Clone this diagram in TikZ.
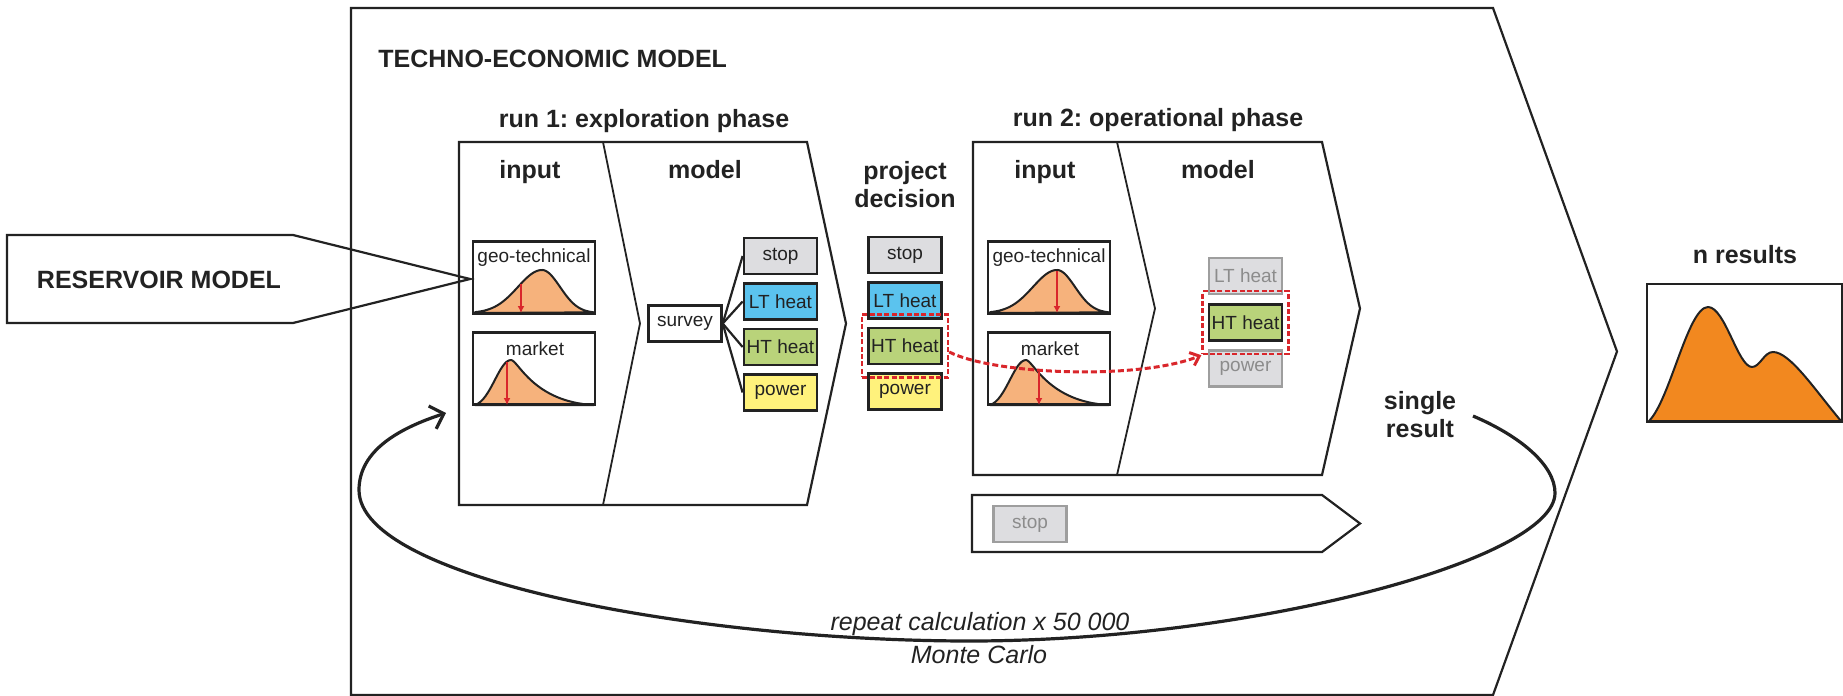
\documentclass[tikz,border=0pt]{standalone}
\usepackage{fontspec}
\setmainfont{Liberation Sans}
\usetikzlibrary{arrows.meta,fit}

\definecolor{ink}{HTML}{222222}
\definecolor{stopgrey}{HTML}{DDDDE0}
\definecolor{ltblue}{HTML}{5BC3EE}
\definecolor{htgreen}{HTML}{B9D37A}
\definecolor{pwyellow}{HTML}{FFF27C}
\definecolor{pdflight}{HTML}{F6B27C}
\definecolor{pdfdark}{HTML}{F2881F}
\definecolor{hired}{HTML}{D9262B}

\begin{document}
\frenchspacing
\begin{tikzpicture}[x=0.5pt, y=-0.5pt, color=ink,
    head/.style={font=\bfseries\fontsize{12.5pt}{14pt}\selectfont, anchor=base, inner sep=0, align=center},
    lbl/.style={font=\fontsize{9.5pt}{11pt}\selectfont, anchor=base, inner sep=0},
    note/.style={font=\itshape\fontsize{12.5pt}{15pt}\selectfont, anchor=base, inner sep=0},
    optbox/.style={draw=ink, line width=1.4pt, minimum width=36.5pt, minimum height=18pt, inner sep=0, font=\fontsize{9.5pt}{11pt}\selectfont},
    greybox/.style={optbox, draw=black!38, fill=stopgrey, text=black!45},
    chartbox/.style={draw=ink, line width=1.2pt, minimum width=61pt, minimum height=36pt, inner sep=0},
    curve/.style={fill=#1, line width=1pt, line join=round},
    hilite/.style={draw=hired, line width=1.3pt, dash pattern=on 2.5pt off 1.2pt, inner xsep=2.5pt, inner ysep=6pt},
    peg/.style={draw=hired, line width=1pt, -{Latex[length=3.5pt,width=3.5pt]}},
    panel/.style={draw=ink, line width=1.1pt}]
    \useasboundingbox (0,0) rectangle (1843,696);

    % outer frame and reservoir arrow
    \draw[panel] (351,8) -- (1493,8) -- (1617,351.5) -- (1493,695) -- (351,695) -- cycle;
    \draw[panel] (7,235) -- (293,235) -- (470,279) -- (293,323) -- (7,323) -- cycle;
    \node[head] (res) at (159,288) {RESERVOIR MODEL};
    \node[head, anchor=base west] (tem) at (378,68) {TECHNO-ECONOMIC MODEL};

    % the two runs
    \draw[panel] (459,142) -- (807,142) -- (846,323.5) -- (807,505) -- (459,505) -- cycle;
    \draw[panel, line width=0.9pt] (603,142) -- (640,323.5) -- (603,505);
    \draw[panel] (973,142) -- (1322,142) -- (1360,308.5) -- (1322,475) -- (973,475) -- cycle;
    \draw[panel, line width=0.9pt] (1117,142) -- (1155,308.5) -- (1117,475);
    \draw[panel] (972,495) -- (1322,495) -- (1360,523.5) -- (1322,552) -- (972,552) -- cycle;

    \node[head] (run1) at (644,127) {run 1: exploration phase};
    \node[head] (run2) at (1158,126) {run 2: operational phase};
    \node[head] (in1) at (530,178) {input};
    \node[head] (mod1) at (705,178) {model};
    \node[head] (in2) at (1045,178) {input};
    \node[head] (mod2) at (1218,178) {model};
    \node[head] (dec) at (905,207) {project\\decision};
    \node[head] (single) at (1420,437) {single\\result};
    \node[head] (nres) at (1745,263) {n results};

    % input distributions of both runs
    \foreach \ox/\ga/\gy/\ma/\my/\n in {473/521/284/507/362/1, 988/1057/271/1039/372/2} {
        \pgfmathsetmacro{\xa}{\ox+2}
        \pgfmathsetmacro{\xb}{\ox+121}
        \filldraw[curve=pdflight] (\xa,313) -- plot[domain=\xa:\xb, samples=70] (\x,{313-43*exp(-(\x-\ox-69)*(\x-\ox-69)/(\x<\ox+69 ? 1156 : 650))}) -- cycle;
        \node[chartbox] (geo\n) at ({\ox+61},277.5) {};
        \node[lbl] (geolbl\n) at ({\ox+61},262) {geo-technical};
        \draw[peg] (\ga,\gy) -- (\ga,313);
        \filldraw[curve=pdflight] (\xa,405) .. controls ({\ox+18},400) and ({\ox+26},360) .. ({\ox+38},360) .. controls ({\ox+45},360) and ({\ox+60},402) .. (\xb,405) -- cycle;
        \node[chartbox] (mkt\n) at ({\ox+61},368.5) {};
        \node[lbl] (mktlbl\n) at ({\ox+62},355) {market};
        \draw[peg] (\ma,\my) -- (\ma,405);
    }

    % survey and outcomes
    \node[optbox, line width=1.2pt, fill=white] (survey) at (685,323.5) {survey};
    \foreach \lbl/\col [count=\i] in {stop/stopgrey, LT heat/ltblue, HT heat/htgreen, power/pwyellow} {
        \node[optbox, fill=\col] (m\i) at (780.5,{210.5+45.5*\i}) {\lbl};
        \node[optbox, fill=\col] (d\i) at (905,{209.5+45.5*\i}) {\lbl};
        \draw[line width=1.1pt] (survey.east) -- (m\i.west);
    }

    % operational outcomes
    \node[greybox] (o1) at (1245.5,276) {LT heat};
    \node[optbox, fill=htgreen] (o2) at (1245.5,322.5) {HT heat};
    \node[greybox] (o3) at (1245.5,368.5) {power};
    \node[greybox] (o0) at (1030,524) {stop};

    \node[hilite, fit=(d3)] (hl1) {};
    \node[hilite, fit=(o2)] (hl2) {};
    \draw[hired, line width=1.5pt, dash pattern=on 3pt off 1.5pt, -{Straight Barb[length=4pt,width=7pt]}] ([yshift=-3pt]hl1.east) .. controls (995,375) and (1140,380) .. (hl2.south west);

    % monte carlo loop
    \coordinate (loopstart) at (1473,416);
    \coordinate (loopend) at (446,413);
    \draw[line width=1.6pt, -{Straight Barb[length=6pt,width=12pt]}] (loopstart) .. controls (1520,436) and (1555,465) .. (1555,493) .. controls (1555,560) and (1250,641) .. (970,641) .. controls (700,641) and (359,580) .. (359,490) .. controls (359,450) and (400,428) .. (loopend);
    \node[note] (rep) at (980,630) {repeat calculation x 50 000};
    \node[note] (mc) at (979,663) {Monte Carlo};

    % result distribution
    \filldraw[curve=pdfdark] (1649,421) .. controls (1670,400) and (1688,307) .. (1708,307) .. controls (1725,307) and (1738,367) .. (1752,367) .. controls (1760,367) and (1764,352) .. (1773,352) .. controls (1790,352) and (1815,390) .. (1841,421) -- cycle;
    \node[chartbox, minimum width=97.5pt, minimum height=69pt] (dist) at (1744.5,353) {};
\end{tikzpicture}
\end{document}
